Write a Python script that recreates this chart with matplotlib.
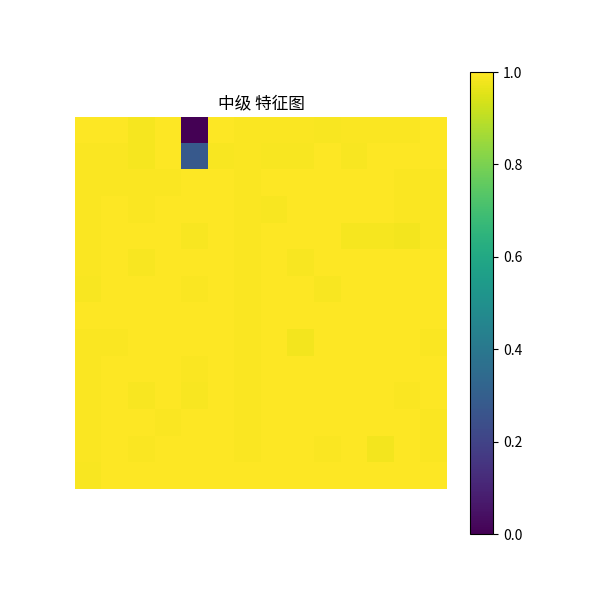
import numpy as np
import matplotlib
matplotlib.use("Agg")
import matplotlib.pyplot as plt

plt.rcParams['font.family'] = ['Noto Sans CJK SC', 'DejaVu Sans']
plt.rcParams['axes.unicode_minus'] = False

title = "中级 特征图"

row00 = [1.000, 1.000, 0.987, 1.000, 0.000, 1.000, 0.993, 0.993, 0.993, 0.990, 0.993, 0.993, 0.993, 0.997]
row01 = [0.993, 0.993, 0.987, 1.000, 0.280, 0.990, 0.993, 0.990, 0.990, 1.000, 0.990, 0.997, 0.997, 1.000]
row02 = [0.993, 0.993, 0.993, 0.993, 1.000, 1.000, 0.993, 0.997, 0.997, 0.997, 0.997, 0.997, 0.993, 0.993]
row03 = [0.993, 1.000, 0.993, 1.000, 1.000, 1.000, 0.993, 0.990, 1.000, 1.000, 1.000, 1.000, 0.993, 0.993]
row04 = [0.993, 1.000, 1.000, 1.000, 0.990, 1.000, 0.993, 0.997, 1.000, 1.000, 0.987, 0.987, 0.983, 0.993]
row05 = [0.993, 1.000, 0.990, 0.997, 0.997, 0.997, 0.993, 1.000, 0.990, 1.000, 1.000, 1.000, 1.000, 1.000]
row06 = [0.990, 1.000, 1.000, 1.000, 0.993, 1.000, 0.993, 0.997, 0.997, 0.990, 1.000, 1.000, 1.000, 1.000]
row07 = [1.000, 1.000, 1.000, 1.000, 1.000, 1.000, 0.993, 0.997, 0.997, 0.997, 0.997, 0.997, 1.000, 1.000]
row08 = [0.993, 0.993, 1.000, 1.000, 1.000, 1.000, 0.993, 1.000, 0.983, 0.997, 0.997, 0.997, 0.997, 0.993]
row09 = [0.993, 1.000, 1.000, 1.000, 0.993, 1.000, 0.993, 1.000, 0.997, 0.997, 0.997, 0.997, 0.997, 0.997]
row10 = [0.993, 1.000, 0.990, 1.000, 0.990, 1.000, 0.993, 0.997, 0.997, 1.000, 1.000, 1.000, 0.993, 1.000]
row11 = [0.993, 1.000, 1.000, 0.993, 1.000, 1.000, 0.993, 0.997, 0.997, 1.000, 1.000, 1.000, 1.000, 0.993]
row12 = [0.993, 1.000, 0.993, 1.000, 1.000, 1.000, 0.993, 0.997, 0.997, 0.993, 1.000, 0.983, 1.000, 0.993]
row13 = [0.990, 1.000, 0.997, 1.000, 1.000, 1.000, 0.997, 1.000, 1.000, 1.000, 1.000, 1.000, 1.000, 0.997]

data = np.array([row00, row01, row02, row03, row04, row05, row06,
                 row07, row08, row09, row10, row11, row12, row13])

fig = plt.figure(figsize=(6, 6), dpi=100)
im = plt.imshow(data, cmap='viridis', vmin=0, vmax=1)
plt.title(title)
plt.axis('off')
plt.colorbar(im)
plt.savefig('out.png', dpi=100)
